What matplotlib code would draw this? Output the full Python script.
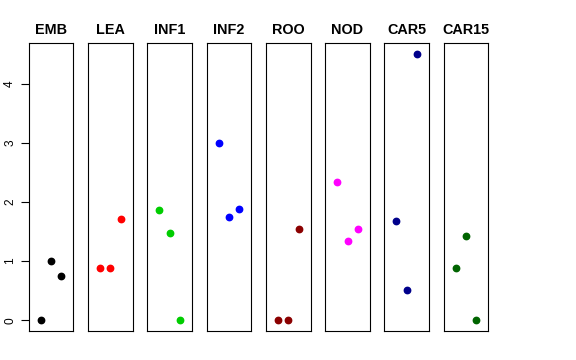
import numpy as np
import matplotlib
matplotlib.use("Agg")
import matplotlib.pyplot as plt

# Tissues and three values per tissue
tissues = ["EMB", "LEA", "INF1", "INF2", "ROO", "NOD", "CAR5", "CAR15"]
values = {
    "EMB": [0.0, 1.0, 0.75],
    "LEA": [0.89, 0.89, 1.72],
    "INF1": [1.86, 1.48, 0.0],
    "INF2": [3.0, 1.74, 1.88],
    "ROO": [0.0, 0.0, 1.55],
    "NOD": [2.33, 1.34, 1.54],
    "CAR5": [1.67, 0.51, 4.5],
    "CAR15": [0.88, 1.42, 0.0],
}
colors = ["black", "#FF0000", "#00CD00", "#0000FF",
          "#8B0000", "#FF00FF", "#00008B", "#006400"]
yticks = [0, 1, 2, 3, 4]

plt.rcParams["font.family"] = ["Liberation Sans", "DejaVu Sans"]

W, H = 576, 360
fig = plt.figure(figsize=(W / 100, H / 100), dpi=100)

left0, step, width = 28.7, 59.3, 44.6
top, bottom = 43.3, 331.0

ymax = max(max(v) for v in values.values())
pad_y = 0.04 * ymax

for i, (name, col) in enumerate(zip(tissues, colors)):
    x0 = left0 + i * step
    ax = fig.add_axes([x0 / W, (H - bottom) / H, width / W, (bottom - top) / H])
    ys = values[name]
    xs = np.arange(1, len(ys) + 1)
    ax.plot(xs, ys, "o", color=col, ms=4.6, mec=col)
    ax.set_xlim(-0.16, 4.16)
    ax.set_ylim(-pad_y, ymax + pad_y)
    ax.set_xticks([])
    ax.set_title(name, fontsize=10.4, fontweight="bold", pad=6.5)
    for s in ax.spines.values():
        s.set_linewidth(0.8)
    if i == 0:
        ax.set_yticks(yticks)
        ax.tick_params(axis="y", length=5.5, width=0.8, pad=3.5,
                       labelsize=8.6, labelrotation=90)
        for lbl in ax.get_yticklabels():
            lbl.set_va("center")
    else:
        ax.set_yticks([])

fig.savefig("out.png", dpi=100)
